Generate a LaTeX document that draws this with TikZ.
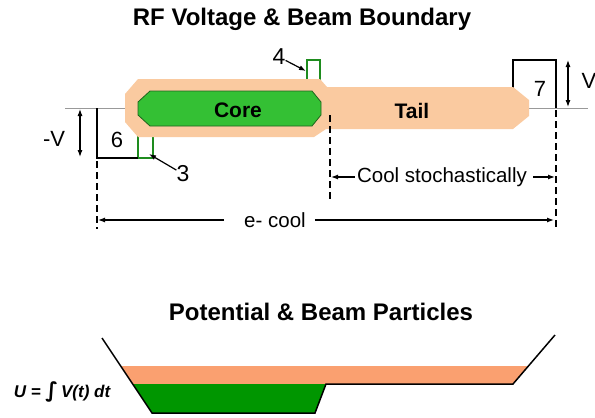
\documentclass[tikz,border=0pt]{standalone}
\usepackage{fontspec}
\setmainfont{Liberation Sans}
\newfontfamily\dejavu{DejaVu Sans}
\usetikzlibrary{arrows.meta}
\definecolor{peach}{RGB}{250,202,160}
\definecolor{coregreen}{RGB}{52,192,52}
\definecolor{coreedge}{RGB}{30,100,30}
\definecolor{salmon}{RGB}{250,160,112}
\definecolor{potgreen}{RGB}{0,150,0}
\definecolor{pulsegreen}{RGB}{30,140,30}
\begin{document}
\begin{tikzpicture}[x=1pt,y=-1pt,
  title/.style={inner sep=0pt, font=\bfseries\fontsize{24}{28}\selectfont},
  lbl/.style={inner sep=0pt, font=\fontsize{22}{26}\selectfont},
  biglbl/.style={inner sep=0pt, font=\fontsize{23}{27}\selectfont},
  txt/.style={inner sep=0pt, font=\fontsize{20.5}{24}\selectfont},
  boldlbl/.style={inner sep=0pt, font=\bfseries\fontsize{21}{25}\selectfont},
  baseline/.style={draw=gray!80, line width=0.8pt},
  boxline/.style={draw=black, line width=1.3pt},
  pulse/.style={draw=pulsegreen, line width=2pt},
  dashline/.style={draw=black, line width=1.4pt, dash pattern=on 7pt off 4pt},
  ptr/.style={draw=black, line width=1.2pt, -{Latex[length=7pt,width=5pt]}},
  dimarr/.style={draw=black, line width=1.1pt, {Latex[length=7pt,width=5pt]}-{Latex[length=7pt,width=5pt]}},
  potline/.style={draw=black, line width=1.5pt, line join=miter}]
\useasboundingbox (0,0) rectangle (595,418);

% titles
\node[title] (t1) at (302,19) {RF Voltage \& Beam Boundary};
\node[title] (t2) at (321,312) {Potential \& Beam Particles};

% reference (zero-voltage) lines
\draw[baseline] (65,108) -- (126,108);
\draw[baseline] (525,108) -- (588,108);

% pulses (partly hidden by the beam)
\draw[pulse] (138,130) -- (138,158) -- (153,158) -- (153,130);
\draw[pulse] (307,85) -- (307,60) -- (320,60) -- (320,85);

% voltage boxes 6 and 7
\draw[boxline] (97,108) -- (97,158) -- (138,158);
\draw[boxline] (513,88) -- (513,60) -- (556,60) -- (556,108);

% beam boundary (tail + core region)
\fill[peach] (138,79) -- (320,79) -- (327,87) -- (513,87) -- (529,100) -- (529,116)
  -- (513,129) -- (326,129) -- (314,137) -- (138,137) -- (125,122) -- (125,94) -- cycle;
\draw[coreedge, fill=coregreen, line width=0.8pt] (150,91) -- (312,91) -- (321,102)
  -- (321,115) -- (312,126) -- (150,126) -- (138,115) -- (138,102) -- cycle;
\node[boldlbl] (core) at (238,110) {Core};
\node[boldlbl] (tail) at (412,111) {Tail};

% dashed boundaries
\draw[dashline] (97,161) -- (97,229);
\draw[dashline] (556,110) -- (556,229);
\draw[dashline] (330,115) -- (330,201);

% voltage dimensions
\draw[dimarr] (80,109) -- (80,157);
\draw[dimarr] (568,60) -- (568,107);
\node[lbl] (mv) at (54,139) {-V};
\node[lbl] (vv) at (589,81) {V};

% box labels
\node[lbl] (six) at (117,140) {6};
\node[lbl] (seven) at (540,89) {7};
\node[biglbl] (three) at (183,174) {3};
\node[biglbl] (four) at (279,57) {4};
\coordinate (p3) at (149,154);
\coordinate (p4) at (306,71);
\draw[ptr] (three) -- (p3);
\draw[ptr] (four) -- (p4);

% cooling ranges
\node[txt] (cool) at (442,177) {Cool stochastically};
\coordinate (csl) at (331,177);
\coordinate (csr) at (555,177);
\draw[ptr] ([xshift=-2pt]cool.west) -- (csl);
\draw[ptr] ([xshift=6pt]cool.east) -- (csr);

\node[txt] (ecool) at (275,220) {e- cool};
\coordinate (ecl) at (98,220);
\coordinate (ecr) at (554,220);
\draw[ptr] ([xshift=-20pt]ecool.west) -- (ecl);
\draw[ptr] ([xshift=9pt]ecool.east) -- (ecr);

% potential well and particles
\coordinate (w1) at (102,338);
\coordinate (w2) at (152,413);
\coordinate (w3) at (315,413);
\coordinate (w4) at (326,384);
\coordinate (w5) at (513,384);
\coordinate (w6) at (555,335);
\fill[salmon] (120.7,366) -- (528.4,366) -- (w5) -- (132.7,384) -- cycle;
\fill[potgreen] (132.7,384) -- (w4) -- (w3) -- (w2) -- cycle;
\draw[potline] (w1) -- (w2) -- (w3) -- (w4) -- (w5) -- (w6);

\node[inner sep=0pt, font=\bfseries\itshape\fontsize{17}{20}\selectfont] (u) at (62,392)
  {U = {\dejavu\fontsize{21}{22}\selectfont\char"222B}\,V(t) dt};
\end{tikzpicture}
\end{document}
